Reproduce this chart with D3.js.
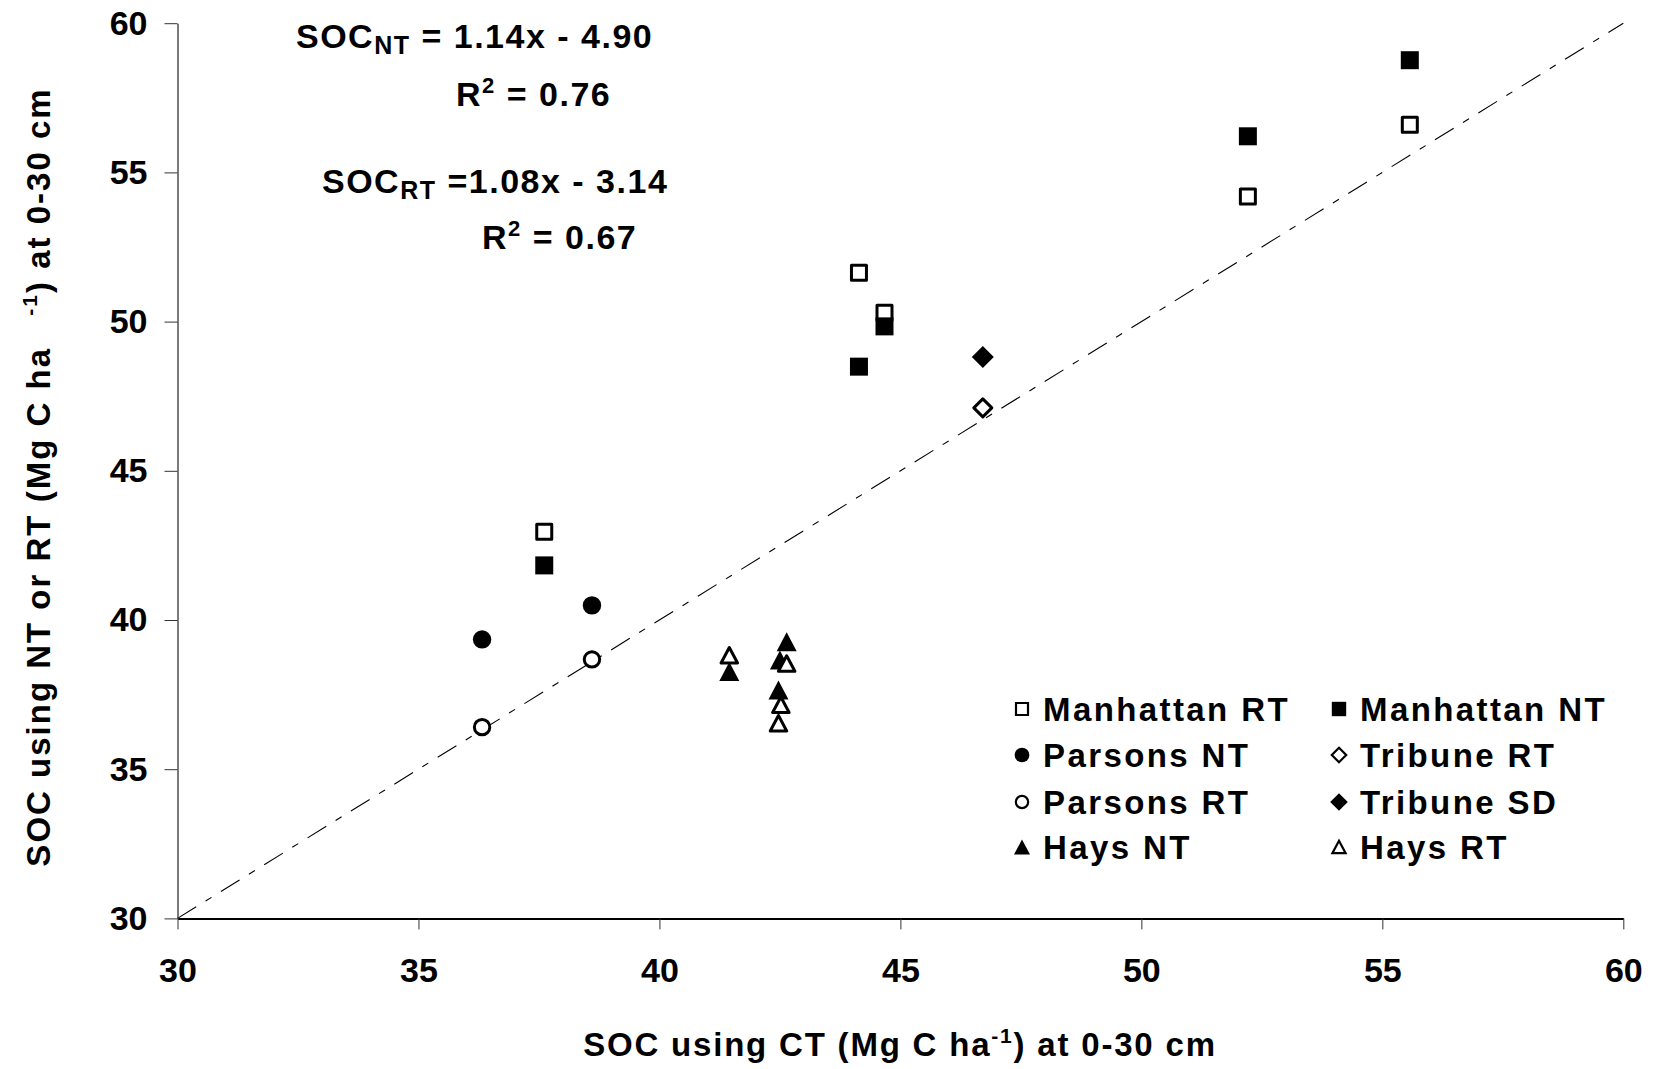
<!DOCTYPE html>
<html><head><meta charset="utf-8">
<script src="https://cdn.jsdelivr.net/npm/d3@7"></script>
<style>
html,body{margin:0;padding:0;background:#fff;}
text{font-family:"Liberation Sans",Arial,sans-serif;font-weight:bold;fill:#000;}
</style></head>
<body>
<svg id="chart" width="1657" height="1069"></svg>
<script>
// ---- data ----
const seriesNames = ["Manhattan RT","Manhattan NT","Parsons NT","Tribune RT","Parsons RT","Tribune SD","Hays NT","Hays RT"];
const manhattanRT_x = [44.14, 44.67, 37.61, 52.21, 55.57];
const manhattanRT_y = [51.64, 50.30, 42.96, 54.19, 56.60];
const manhattanNT_x = [44.14, 44.67, 37.61, 52.21, 55.57];
const manhattanNT_y = [48.49, 49.84, 41.83, 56.21, 58.76];
const parsonsNT_x = [36.32, 38.60];
const parsonsNT_y = [39.35, 40.49];
const parsonsRT_x = [36.32, 38.60];
const parsonsRT_y = [36.41, 38.68];
const tribuneSD_x = [46.71];
const tribuneSD_y = [48.81];
const tribuneRT_x = [46.71];
const tribuneRT_y = [47.11];
const haysNT_x = [41.45, 42.64, 42.50, 42.47];
const haysNT_y = [38.27, 39.27, 38.66, 37.65];
const haysRT_x = [41.45, 42.64, 42.52, 42.47];
const haysRT_y = [38.82, 38.54, 37.16, 36.54];
const xTicks = [30, 35, 40, 45, 50, 55, 60];
const yTicks = [30, 35, 40, 45, 50, 55, 60];
const oneToOne = [[30, 30], [60, 60]];

const svg = d3.select("#chart");
const L = 177.5, R = 1623.3, T = 23.2, B = 918.4;
const x = d3.scaleLinear().domain([30, 60]).range([L, R]);
const y = d3.scaleLinear().domain([30, 60]).range([B, T]);

// 1:1 line
svg.append("path")
  .attr("d", d3.line().x(d => x(d[0])).y(d => y(d[1]))(oneToOne))
  .attr("stroke", "#000").attr("stroke-width", 1.1).attr("fill", "none")
  .attr("stroke-dasharray", "22,11,7,11");

// axes
const xAxis = svg.append("g").attr("transform", `translate(0,${B})`)
  .call(d3.axisBottom(x).tickValues(xTicks).tickSize(11).tickPadding(28).tickSizeOuter(0));
const yAxis = svg.append("g").attr("transform", `translate(${L},0)`)
  .call(d3.axisLeft(y).tickValues(yTicks).tickSize(13).tickPadding(17).tickSizeOuter(0));
[xAxis, yAxis].forEach(g => {
  g.select(".domain").attr("stroke", "#333").attr("stroke-width", 1.3);
  g.selectAll(".tick line").attr("stroke", "#333").attr("stroke-width", 1);
  g.selectAll(".tick text").attr("font-size", 34).attr("font-family", '"Liberation Sans",Arial,sans-serif')
    .attr("font-weight", "bold").attr("fill", "#000");
});
xAxis.select(".domain").attr("stroke", "#000").attr("stroke-width", 2);

// symbols
const sq = d3.symbol().type(d3.symbolSquare);
const ci = d3.symbol().type(d3.symbolCircle);
function trianglePath(w, h){ return `M0,${-h/2}L${w/2},${h/2}L${-w/2},${h/2}Z`; }
function diamondPath(s){ return `M0,${-s}L${s},0L0,${s}L${-s},0Z`; }

const specs = [
  {xs: manhattanRT_x, ys: manhattanRT_y, shape: "square", filled: false},
  {xs: manhattanNT_x, ys: manhattanNT_y, shape: "square", filled: true},
  {xs: parsonsNT_x, ys: parsonsNT_y, shape: "circle", filled: true},
  {xs: parsonsRT_x, ys: parsonsRT_y, shape: "circle", filled: false},
  {xs: tribuneSD_x, ys: tribuneSD_y, shape: "diamond", filled: true},
  {xs: tribuneRT_x, ys: tribuneRT_y, shape: "diamond", filled: false},
  {xs: haysNT_x, ys: haysNT_y, shape: "triangle", filled: true},
  {xs: haysRT_x, ys: haysRT_y, shape: "triangle", filled: false}
];
function markerPath(shape, filled, scale){
  const k = scale || 1;
  if (shape === "square") return sq.size(Math.pow((filled ? 18 : 15) * k, 2))();
  if (shape === "circle") return ci.size(Math.PI * Math.pow((filled ? 9.2 : 7.7) * k, 2))();
  if (shape === "triangle") return filled ? trianglePath(20 * k, 19 * k) : trianglePath(16.5 * k, 15.5 * k);
  return diamondPath((filled ? 11 : 9) * k);
}
specs.forEach(sp => {
  const pts = sp.xs.map((v, i) => [v, sp.ys[i]]);
  svg.append("g").selectAll("path").data(pts).join("path")
    .attr("transform", d => `translate(${x(d[0])},${y(d[1])})`)
    .attr("d", markerPath(sp.shape, sp.filled))
    .attr("fill", sp.filled ? "#000" : "#fff")
    .attr("stroke", "#000")
    .attr("stroke-width", sp.filled ? 0 : 3)
    .attr("stroke-linejoin", "round");
});

// legend
const legendItems = [
  {name: seriesNames[0], shape: "square", filled: false, col: 0, row: 0},
  {name: seriesNames[1], shape: "square", filled: true, col: 1, row: 0},
  {name: seriesNames[2], shape: "circle", filled: true, col: 0, row: 1},
  {name: seriesNames[3], shape: "diamond", filled: false, col: 1, row: 1},
  {name: seriesNames[4], shape: "circle", filled: false, col: 0, row: 2},
  {name: seriesNames[5], shape: "diamond", filled: true, col: 1, row: 2},
  {name: seriesNames[6], shape: "triangle", filled: true, col: 0, row: 3},
  {name: seriesNames[7], shape: "triangle", filled: false, col: 1, row: 3}
];
const colX = [1022, 1339], rowY = [709, 755, 802, 847];
const lg = svg.append("g");
legendItems.forEach(it => {
  lg.append("path")
    .attr("transform", `translate(${colX[it.col]},${rowY[it.row]})`)
    .attr("d", markerPath(it.shape, it.filled, 0.8))
    .attr("fill", it.filled ? "#000" : "#fff").attr("stroke", "#000")
    .attr("stroke-width", it.filled ? 0 : 2.2);
  lg.append("text").attr("x", colX[it.col] + 21).attr("y", rowY[it.row] + 12)
    .attr("font-size", 33).style("letter-spacing", "2.4px").text(it.name);
});

// equations
function eq(xp, yp, sub, rest){
  const t = svg.append("text").attr("x", xp).attr("y", yp).attr("font-size", 34).style("letter-spacing", "1.5px");
  t.append("tspan").text("SOC");
  t.append("tspan").attr("font-size", 25).attr("dy", 6).text(sub);
  t.append("tspan").attr("dy", -6).text(rest);
}
function r2(xp, yp, val){
  const t = svg.append("text").attr("x", xp).attr("y", yp).attr("font-size", 34).style("letter-spacing", "1.5px");
  t.append("tspan").text("R");
  t.append("tspan").attr("font-size", 22).attr("dy", -13).text("2");
  t.append("tspan").attr("dy", 13).text(" = " + val);
}
eq(296, 48, "NT", " = 1.14x  - 4.90");
r2(456, 106, "0.76");
eq(322, 193, "RT", " =1.08x  - 3.14");
r2(482, 249, "0.67");

// axis titles
const xt = svg.append("text").attr("x", 900).attr("y", 1056).attr("text-anchor", "middle")
  .attr("font-size", 33).style("letter-spacing", "1.8px");
xt.append("tspan").text("SOC using CT (Mg C ha");
xt.append("tspan").attr("font-size", 21).attr("dy", -13).text("-1");
xt.append("tspan").attr("dy", 13).text(") at 0-30 cm");

const yt = svg.append("text").attr("transform", "translate(50,477) rotate(-90)").attr("text-anchor", "middle")
  .attr("font-size", 33).style("letter-spacing", "2px").attr("xml:space", "preserve");
yt.append("tspan").text("SOC using NT or RT (Mg C ha");
yt.append("tspan").attr("font-size", 21).attr("dy", -13).text("\u00a0\u00a0\u00a0\u00a0-1");
yt.append("tspan").attr("dy", 13).text(") at 0-30 cm");
</script>
</body></html>
